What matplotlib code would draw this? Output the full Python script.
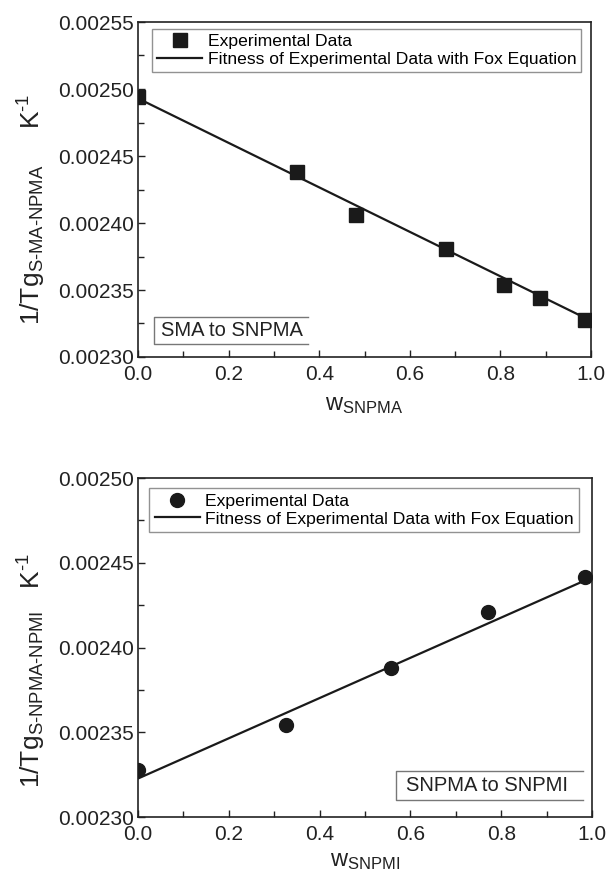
import matplotlib
matplotlib.use('Agg')
import matplotlib.pyplot as plt
from matplotlib.ticker import MultipleLocator, FormatStrFormatter

plt.rcParams['font.family'] = ['Liberation Sans', 'DejaVu Sans']
plt.rcParams['mathtext.fontset'] = 'custom'
plt.rcParams['mathtext.rm'] = 'Liberation Sans'
plt.rcParams['mathtext.it'] = 'Liberation Sans:italic'
plt.rcParams['mathtext.bf'] = 'Liberation Sans:bold'

# SMA -> SNPMA
w_snpma = [0.0, 0.351, 0.481, 0.681, 0.807, 0.888, 0.987]
inv_tg_sma = [0.002494, 0.0024378, 0.0024063, 0.0023808, 0.002354, 0.0023443, 0.0023275]
fit_x_sma = [0.0, 1.0]
fit_y_sma = [0.002493, 0.002327]

# SNPMA -> SNPMI
w_snpmi = [0.0, 0.325, 0.557, 0.772, 0.985]
inv_tg_snpmi = [0.0023276, 0.0023545, 0.0023878, 0.0024207, 0.0024417]
fit_x_snpmi = [0.0, 0.99]
fit_y_snpmi = [0.0023227, 0.0024402]

W, H = 609, 876
fig = plt.figure(figsize=(W / 100, H / 100), dpi=100)

def make_axes(box_px):
    l, t, r, b = box_px
    return fig.add_axes([l / W, 1 - b / H, (r - l) / W, (b - t) / H])

def style(ax, ylim, xlabel, labelpad):
    ax.set_xlim(0, 1.0)
    ax.set_ylim(*ylim)
    ax.xaxis.set_major_locator(MultipleLocator(0.2))
    ax.xaxis.set_minor_locator(MultipleLocator(0.1))
    ax.yaxis.set_major_locator(MultipleLocator(0.00005))
    ax.yaxis.set_minor_locator(MultipleLocator(0.000025))
    ax.xaxis.set_major_formatter(FormatStrFormatter('%.1f'))
    ax.yaxis.set_major_formatter(FormatStrFormatter('%.5f'))
    ax.tick_params(which='both', direction='in', top=False, right=False,
                   labelsize=15, width=1.0, colors='#222222')
    ax.tick_params(which='major', length=5)
    ax.tick_params(which='minor', length=4)
    ax.tick_params(axis='x', which='major', pad=6)
    ax.tick_params(axis='y', which='major', pad=3)
    for s in ax.spines.values():
        s.set_linewidth(1.2)
        s.set_color('#222222')
    ax.set_xlabel(xlabel, fontsize=17, labelpad=labelpad, color='#222222')

def open_box(ax, x0, y0, x1, y1, text, tx):
    # label frame is open on its right side, as in the source figure
    kw = dict(transform=ax.transAxes, color='#777777', lw=1.0, clip_on=False)
    ax.plot([x1, x0, x0, x1], [y1, y1, y0, y0], **kw)
    ax.text(tx, (y0 + y1) / 2, text, transform=ax.transAxes, fontsize=14.5,
            va='center', ha='left', color='#222222')

def add_legend(ax, anchor):
    h, l = ax.get_legend_handles_labels()
    leg = ax.legend(h[::-1], l[::-1], loc='upper left', bbox_to_anchor=anchor,
                    fontsize=12.6, frameon=True, fancybox=False, edgecolor='#777777',
                    handlelength=2.6, handletextpad=0.3, borderpad=0.3,
                    labelspacing=0.15, borderaxespad=0)
    leg.get_frame().set_linewidth(1.0)

# ---- top panel ----
ax1 = make_axes((138, 22, 591, 357))
ax1.plot(fit_x_sma, fit_y_sma, color='#1a1a1a', lw=1.6,
         label='Fitness of Experimental Data with Fox Equation', zorder=2)
ax1.plot(w_snpma, inv_tg_sma, 's', color='#1a1a1a', ms=10, ls='none',
         label='Experimental Data', zorder=3)
style(ax1, (0.00230, 0.00255), r'w$_{\text{SNPMA}}$', 7)
add_legend(ax1, (0.03, 0.98))
open_box(ax1, 0.035, 0.04, 0.375, 0.12, 'SMA to SNPMA', 0.05)
fig.text(32 / W, 1 - 209 / H,
         r'1/Tg$_{\text{S-MA-NPMA}}$     K$^{\text{-1}}$',
         rotation=90, ha='center', va='center', fontsize=19, color='#222222')

# ---- bottom panel ----
ax2 = make_axes((138, 478, 592, 817))
ax2.plot(fit_x_snpmi, fit_y_snpmi, color='#1a1a1a', lw=1.6,
         label='Fitness of Experimental Data with Fox Equation', zorder=2)
ax2.plot(w_snpmi, inv_tg_snpmi, 'o', color='#1a1a1a', ms=10, ls='none',
         label='Experimental Data', zorder=3)
style(ax2, (0.00230, 0.00250), r'w$_{\text{SNPMI}}$', 4)
add_legend(ax2, (0.025, 0.97))
open_box(ax2, 0.568, 0.05, 0.98, 0.135, 'SNPMA to SNPMI', 0.59)
fig.text(32 / W, 1 - 670 / H,
         r'1/Tg$_{\text{S-NPMA-NPMI}}$   K$^{\text{-1}}$',
         rotation=90, ha='center', va='center', fontsize=19, color='#222222')

fig.savefig('out.png', dpi=100)
